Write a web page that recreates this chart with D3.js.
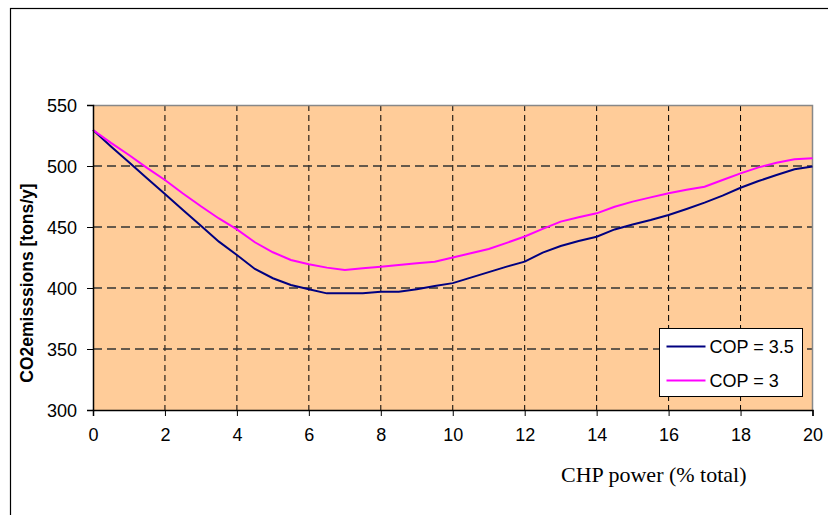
<!DOCTYPE html>
<html>
<head>
<meta charset="utf-8">
<script src="https://cdn.jsdelivr.net/npm/d3@7"></script>
<style>
  body { margin: 0; background: #fff; }
  .tick text { font-family: Arial, "Liberation Sans", sans-serif; font-size: 18px; fill: #000; }
</style>
</head>
<body>
<div id="chart"></div>
<script>
// Data
// ===========================
var chpPower = [0, 0.5, 1, 1.5, 2, 2.5, 3, 3.5, 4, 4.5, 5, 5.5, 6, 6.5, 7, 7.5, 8, 8.5, 9, 9.5,
                10, 10.5, 11, 11.5, 12, 12.5, 13, 13.5, 14, 14.5, 15, 15.5, 16, 16.5, 17, 17.5, 18, 18.5, 19, 19.5, 20];
var cop35 = [529.5, 516, 503, 490, 477, 464, 451, 438, 427, 415.6, 408, 402.5, 399, 395.6, 395.6, 395.6, 397, 397, 399, 401.6,
             404, 408.5, 413, 417.5, 421.6, 429, 434.4, 438.5, 442, 448, 452, 455.7, 459.8, 464.8, 470, 475.7, 482.2, 487.7, 492.6, 497.3, 499.5];
var cop3 = [529.5, 519, 509, 498.5, 488.5, 477.5, 467, 457, 448, 437.5, 429.3, 423, 419.4, 416.7, 414.8, 416.1, 417.5, 418.9, 420.2, 421.6,
            425, 428.5, 432, 437, 442.2, 448.5, 454.4, 458, 461.2, 466.6, 470.8, 474.3, 477.6, 480.5, 483, 488.5, 494, 498.9, 502.7, 505.5, 506.3];
var seriesNames = ["COP = 3.5", "COP = 3"];
var seriesColors = ["#000080", "#FF00FF"];
var xTicks = [0, 2, 4, 6, 8, 10, 12, 14, 16, 18, 20];
var yTicks = [300, 350, 400, 450, 500, 550];

// Step 1: Set up our chart
// ===========================
var svgWidth = 828;
var svgHeight = 515;

var margin = { top: 105, right: 15.5, bottom: 105, left: 93 };
var width = svgWidth - margin.left - margin.right;
var height = svgHeight - margin.top - margin.bottom;

var svg = d3.select("#chart")
            .append("svg")
            .attr("width", svgWidth)
            .attr("height", svgHeight);

// outer frame (runs off the right and bottom edges)
svg.append("rect")
   .attr("x", 10.5)
   .attr("y", 8.5)
   .attr("width", 900)
   .attr("height", 600)
   .attr("fill", "none")
   .attr("stroke", "#000")
   .attr("stroke-width", 1.2);

var chartGroup = svg.append("g")
                    .attr("transform", `translate(${margin.left}, ${margin.top})`);

// Step 2: Scales
// ================================
var xLinearScale = d3.scaleLinear().domain([0, 20]).range([0, width]);
var yLinearScale = d3.scaleLinear().domain([300, 550]).range([height, 0]);

// plot background
chartGroup.append("rect")
          .attr("width", width)
          .attr("height", height)
          .attr("fill", "#FFCC99");

// Step 3: Gridlines
// ================================
chartGroup.selectAll(".vgrid")
          .data(xTicks.slice(1, -1))
          .enter()
          .append("line")
          .attr("x1", d => xLinearScale(d))
          .attr("x2", d => xLinearScale(d))
          .attr("y1", 0)
          .attr("y2", height)
          .attr("stroke", "#000")
          .attr("stroke-dasharray", "6,4");

chartGroup.selectAll(".hgrid")
          .data(yTicks.slice(1, -1))
          .enter()
          .append("line")
          .attr("x1", 0)
          .attr("x2", width)
          .attr("y1", d => yLinearScale(d))
          .attr("y2", d => yLinearScale(d))
          .attr("stroke", "#333")
          .attr("stroke-width", 1.3)
          .attr("stroke-dasharray", "9,5");

// top and right border in grey
chartGroup.append("path")
          .attr("d", `M0,0.5H${width}V${height}`)
          .attr("fill", "none")
          .attr("stroke", "#888")
          .attr("stroke-width", 1.5);

// Step 4: Lines
// ================================
var allSeries = [cop35, cop3];
var line = d3.line()
             .x((d, i) => xLinearScale(chpPower[i]))
             .y(d => yLinearScale(d));

chartGroup.selectAll(".series")
          .data(allSeries)
          .enter()
          .append("path")
          .attr("d", d => line(d))
          .attr("fill", "none")
          .attr("stroke", (d, i) => seriesColors[i])
          .attr("stroke-width", 2);

// Step 5: Axes
// ================================
var bottomAxis = d3.axisBottom(xLinearScale).tickValues(xTicks).tickSize(6).tickPadding(12);
var leftAxis = d3.axisLeft(yLinearScale).tickValues(yTicks).tickSize(6).tickPadding(10);

var xAxisG = chartGroup.append("g")
                       .attr("transform", `translate(0, ${height})`)
                       .call(bottomAxis);
var yAxisG = chartGroup.append("g")
                       .call(leftAxis);

[xAxisG, yAxisG].forEach(function(g) {
    g.select(".domain").attr("stroke", "#000").attr("stroke-width", 1.5);
    g.selectAll(".tick line").attr("stroke", "#000");
});
yAxisG.selectAll(".tick text").attr("dy", "0.36em");

// Step 6: Legend
// ================================
var legend = svg.append("g").attr("transform", "translate(659.5, 328.5)");
legend.append("rect")
      .attr("width", 143)
      .attr("height", 68)
      .attr("fill", "#fff")
      .attr("stroke", "#000");

seriesNames.forEach(function(name, i) {
    var yy = 18 + i * 34;
    legend.append("line")
          .attr("x1", 7).attr("x2", 46)
          .attr("y1", yy).attr("y2", yy)
          .attr("stroke", seriesColors[i])
          .attr("stroke-width", 2);
    legend.append("text")
          .attr("x", 50)
          .attr("y", yy + 6)
          .style("font-family", "Arial, 'Liberation Sans', sans-serif")
          .style("font-size", "18px")
          .text(name);
});

// Step 7: Axis labels
// ================================
svg.append("text")
   .attr("transform", "translate(33, 283) rotate(-90)")
   .attr("text-anchor", "middle")
   .style("font-family", "Arial, 'Liberation Sans', sans-serif")
   .style("font-weight", "bold")
   .style("font-size", "17.5px")
   .text("CO2emisssions [tons/y]");

svg.append("text")
   .attr("x", 561)
   .attr("y", 482)
   .style("font-family", "'Times New Roman', 'Liberation Serif', serif")
   .style("font-size", "22px")
   .text("CHP power (% total)");
</script>
</body>
</html>
